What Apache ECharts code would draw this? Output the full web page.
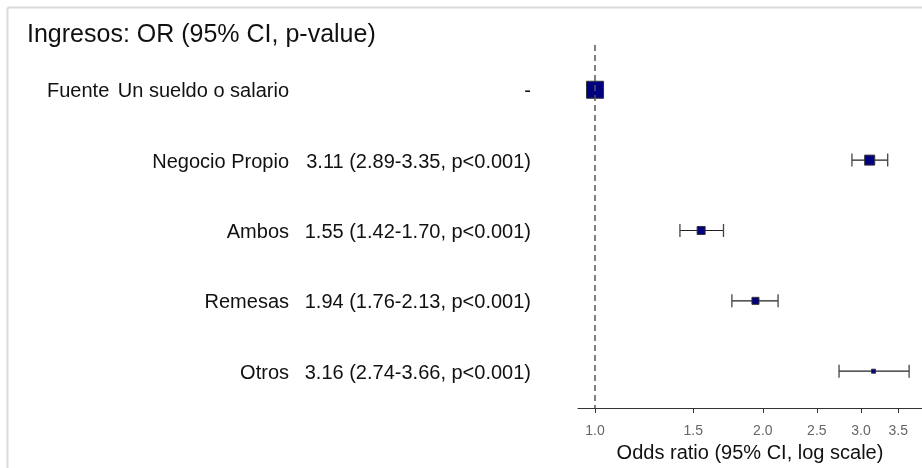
<!DOCTYPE html>
<html><head><meta charset="utf-8">
<script src="https://cdn.jsdelivr.net/npm/echarts@6/dist/echarts.min.js"></script>
<style>html,body{margin:0;padding:0;background:#fff}#c{width:922px;height:468px}</style>
</head><body><div id="c"></div>
<script>
const titleText = 'Ingresos: OR (95% CI, p-value)';
const axisTitle = 'Odds ratio (95% CI, log scale)';
const variableNames = ['Fuente', '', '', '', ''];
const levels = ['Un sueldo o salario', 'Negocio Propio', 'Ambos', 'Remesas', 'Otros'];
const orValues = [1.00, 3.11, 1.55, 1.94, 3.16];
const ciLow = [null, 2.89, 1.42, 1.76, 2.74];
const ciHigh = [null, 3.35, 1.70, 2.13, 3.66];
const pValues = ['', 'p<0.001', 'p<0.001', 'p<0.001', 'p<0.001'];
const markerSizes = [17, 10, 8, 7, 4];
const tickValues = [1.0, 1.5, 2.0, 2.5, 3.0, 3.5];
const tickLabels = ['1.0', '1.5', '2.0', '2.5', '3.0', '3.5'];

const FONT = '"Liberation Sans", Arial, Helvetica, sans-serif';
const ln = Math.log;
const rowLabelsText = orValues.map((v, i) =>
  ciLow[i] == null ? '-' : `${v.toFixed(2)} (${ciLow[i].toFixed(2)}-${ciHigh[i].toFixed(2)}, ${pValues[i]})`);

const chart = echarts.init(document.getElementById('c'), null, {renderer: 'canvas'});
const tickLn = tickValues.map(ln);

chart.setOption({
  animation: false,
  backgroundColor: '#fff',
  grid: {left: 578, right: 0, top: 45, bottom: 58, containLabel: false},
  xAxis: {
    type: 'value',
    min: ln(0.932), max: ln(3.860),
    axisLine: {show: true, onZero: false, lineStyle: {color: '#333', width: 1}},
    axisTick: {show: true, length: 5, customValues: tickLn, lineStyle: {color: '#333'}},
    axisLabel: {
      customValues: tickLn, margin: 16, color: '#666', fontSize: 14, fontFamily: FONT,
      formatter: v => {
        let best = 0;
        tickLn.forEach((t, k) => { if (Math.abs(t - v) < Math.abs(tickLn[best] - v)) best = k; });
        return tickLabels[best];
      }
    },
    splitLine: {show: false},
    name: axisTitle, nameLocation: 'middle', nameGap: 35,
    nameTextStyle: {color: '#111', fontSize: 20, fontFamily: FONT}
  },
  yAxis: {
    type: 'value', inverse: true, min: -0.636, max: 4.523,
    show: false, splitLine: {show: false}
  },
  series: [
    {
      type: 'custom',
      z: 2,
      renderItem: (params, api) => {
        const y = api.value(0);
        const a = api.coord([api.value(1), y]);
        const b = api.coord([api.value(2), y]);
        const h = 6.5;
        return {
          type: 'group',
          children: [
            {type: 'line', shape: {x1: a[0], y1: a[1], x2: b[0], y2: b[1]}, style: {stroke: '#222', lineWidth: 1.2}},
            {type: 'line', shape: {x1: a[0], y1: a[1] - h, x2: a[0], y2: a[1] + h}, style: {stroke: '#444', lineWidth: 1.3}},
            {type: 'line', shape: {x1: b[0], y1: b[1] - h, x2: b[0], y2: b[1] + h}, style: {stroke: '#444', lineWidth: 1.3}}
          ]
        };
      },
      data: orValues.map((v, i) => ciLow[i] == null ? null : [i, ln(ciLow[i]), ln(ciHigh[i])]).filter(d => d)
    },
    {
      type: 'scatter',
      z: 3,
      symbol: 'rect',
      symbolSize: (val, p) => markerSizes[p.dataIndex],
      itemStyle: {color: '#000080', borderColor: '#333', borderWidth: 1, opacity: 1},
      data: orValues.map((v, i) => [ln(v), i]),
      markLine: {
        silent: true, symbol: 'none', z: 4,
        label: {show: false},
        lineStyle: {color: '#555', type: [6, 4], width: 1.5},
        data: [{xAxis: 0}]
      }
    }
  ]
});

const g = [];
g.push({type: 'line', shape: {x1: 7.5, y1: 7.5, x2: 922, y2: 7.5}, style: {stroke: '#dadada', lineWidth: 2}});
g.push({type: 'line', shape: {x1: 7.5, y1: 7.5, x2: 7.5, y2: 468}, style: {stroke: '#dadada', lineWidth: 2}});
g.push({type: 'text', x: 27, y: 35, style: {text: titleText, font: `25px ${FONT}`, fill: '#111', textVerticalAlign: 'middle'}});
levels.forEach((lv, i) => {
  const py = chart.convertToPixel({yAxisIndex: 0}, i) + 2;
  if (variableNames[i]) g.push({type: 'text', x: 47, y: py, style: {text: variableNames[i], font: `20px ${FONT}`, fill: '#111', textVerticalAlign: 'middle', textAlign: 'left'}});
  g.push({type: 'text', x: 289, y: py, style: {text: lv, font: `20px ${FONT}`, fill: '#111', textVerticalAlign: 'middle', textAlign: 'right'}});
  g.push({type: 'text', x: 531, y: py, style: {text: rowLabelsText[i], font: `20px ${FONT}`, fill: '#111', textVerticalAlign: 'middle', textAlign: 'right'}});
});
chart.setOption({graphic: g});
</script></body></html>
